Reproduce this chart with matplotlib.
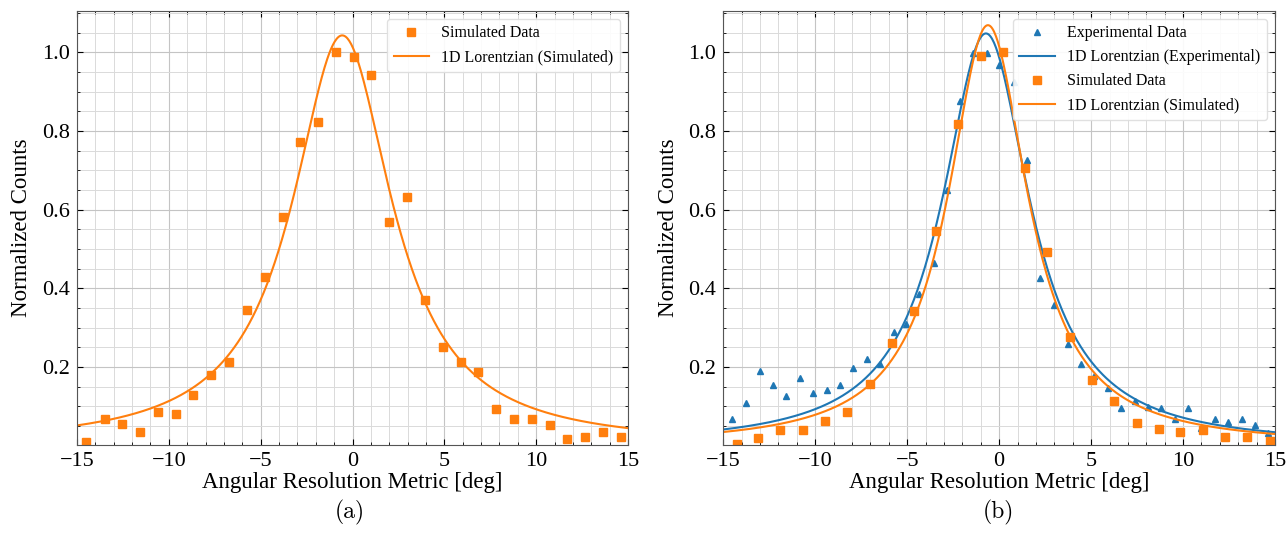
import numpy as np
import matplotlib.pyplot as plt
from matplotlib.ticker import MultipleLocator

plt.rcParams['font.family'] = 'Liberation Serif'
plt.rcParams['mathtext.fontset'] = 'cm'

# (a) simulated data
sim_a_x = [-14.5, -13.5, -12.56, -11.58, -10.6, -9.63, -8.67, -7.69, -6.71, -5.75,
           -4.79, -3.81, -2.85, -1.87, -0.91, 0.07, 1.03, 2.0, 2.98, 3.96,
           4.92, 5.9, 6.84, 7.82, 8.8, 9.76, 10.74, 11.69, 12.65, 13.63, 14.59]
sim_a_y = [0.009, 0.067, 0.055, 0.035, 0.085, 0.080, 0.13, 0.18, 0.213, 0.346,
           0.428, 0.581, 0.771, 0.823, 1.0, 0.989, 0.943, 0.569, 0.632, 0.371,
           0.251, 0.214, 0.188, 0.093, 0.067, 0.067, 0.054, 0.017, 0.022, 0.035, 0.022]

# (b) experimental data
exp_x = [-14.5, -13.76, -13.03, -12.29, -11.57, -10.85, -10.1, -9.38, -8.66, -7.93,
         -7.2, -6.47, -5.73, -5.06, -4.34, -3.56, -2.86, -2.13, -1.41, -0.65,
         0.0, 0.8, 1.54, 2.24, 3.0, 3.72, 4.45, 5.17, 5.9, 6.63,
         7.36, 8.08, 8.8, 9.54, 10.27, 10.99, 11.71, 12.43, 13.18, 13.9, 14.64]
exp_y = [0.067, 0.108, 0.19, 0.154, 0.126, 0.173, 0.135, 0.141, 0.154, 0.198,
         0.22, 0.208, 0.289, 0.31, 0.386, 0.465, 0.651, 0.876, 0.998, 0.998,
         0.969, 0.924, 0.727, 0.427, 0.357, 0.259, 0.207, 0.177, 0.147, 0.097,
         0.113, 0.098, 0.095, 0.067, 0.097, 0.044, 0.069, 0.06, 0.069, 0.054, 0.033]

# (b) simulated data
sim_b_x = [-14.28, -13.1, -11.89, -10.66, -9.45, -8.26, -7.05, -5.84, -4.63, -3.43,
           -2.22, -0.99, 0.22, 1.41, 2.62, 3.83, 5.06, 6.24, 7.47, 8.68,
           9.85, 11.06, 12.29, 13.5, 14.7]
sim_b_y = [0.005, 0.019, 0.039, 0.041, 0.063, 0.087, 0.158, 0.26, 0.342, 0.545,
           0.818, 0.991, 1.0, 0.706, 0.493, 0.277, 0.167, 0.115, 0.059, 0.043,
           0.036, 0.041, 0.022, 0.022, 0.012]

# lorentzian fit parameters: amplitude, centre, half width
fit_a = (1.043, -0.56, 3.3)
fit_exp = (1.048, -0.72, 2.9)
fit_sim = (1.069, -0.61, 2.65)


def lorentz(x, A, x0, g):
    return A * g**2 / ((x - x0)**2 + g**2)


xf = np.linspace(-15, 15, 600)
blue = '#1f77b4'
orange = '#ff7f0e'
legfont = {'family': 'Liberation Serif', 'size': 11.5}

fig = plt.figure(figsize=(12.87, 5.37), dpi=100)
ax1 = fig.add_axes([0.0598, 0.1713, 0.4282, 0.8082])
ax2 = fig.add_axes([0.562, 0.1713, 0.4287, 0.8082])

ax1.plot(sim_a_x, sim_a_y, 's', color=orange, ms=5.5, label='Simulated Data')
ax1.plot(xf, lorentz(xf, *fit_a), color=orange, lw=1.5, label='1D Lorentzian (Simulated)')

ax2.plot(exp_x, exp_y, '^', color=blue, ms=5, label='Experimental Data')
ax2.plot(xf, lorentz(xf, *fit_exp), color=blue, lw=1.5, label='1D Lorentzian (Experimental)')
ax2.plot(sim_b_x, sim_b_y, 's', color=orange, ms=5.5, label='Simulated Data')
ax2.plot(xf, lorentz(xf, *fit_sim), color=orange, lw=1.5, label='1D Lorentzian (Simulated)')

for ax in (ax1, ax2):
    ax.set_xlim(-15, 15)
    ax.set_ylim(0.002, 1.105)
    ax.xaxis.set_major_locator(MultipleLocator(5))
    ax.xaxis.set_minor_locator(MultipleLocator(1))
    ax.yaxis.set_major_locator(MultipleLocator(0.2))
    ax.yaxis.set_minor_locator(MultipleLocator(0.05))
    ax.grid(True, which='major', color='#c4c4c4', lw=0.8)
    ax.grid(True, which='minor', color='#dadada', lw=0.7)
    ax.set_axisbelow(True)
    ax.tick_params(which='both', direction='in', top=True, right=True, labelsize=16)
    ax.tick_params(which='major', length=4, pad=5)
    ax.tick_params(which='minor', length=2.5)
    ax.set_xlabel('Angular Resolution Metric [deg]', fontsize=16.5, labelpad=1)
    ax.set_ylabel('Normalized Counts', fontsize=16.5, labelpad=7)
    for s in ax.spines.values():
        s.set_color('#555555')
    ax.legend(loc='upper right', prop=legfont, fancybox=True, framealpha=0.9,
              edgecolor='#dddddd', handlelength=2.2)

fig.text(0.272, 0.035, '(a)', ha='center', fontsize=17, family='cmr10')
fig.text(0.776, 0.035, '(b)', ha='center', fontsize=17, family='cmr10')

fig.savefig('out.png', dpi=100)
